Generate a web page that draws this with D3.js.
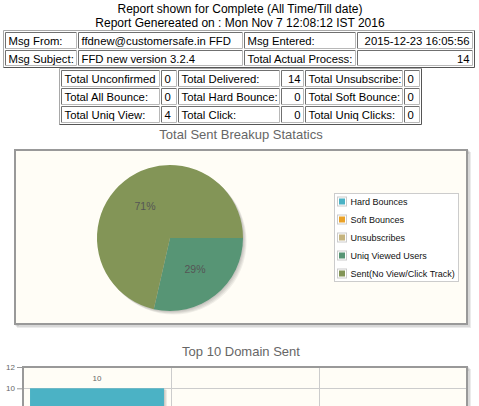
<!DOCTYPE html>
<html>
<head>
<meta charset="utf-8">
<script src="https://cdn.jsdelivr.net/npm/d3@7"></script>
<style>
  body { margin: 0; background: #fff; overflow: hidden; }
  svg { display: block; }
</style>
</head>
<body>
<div id="chart"></div>
<script>
// Asks JavaScript to show more errors.
"use strict";

// header text
var headerLines = ["Report shown for Complete (All Time/Till date)",
                   "Report Genereated on : Mon Nov 7 12:08:12 IST 2016"];

// message table
var msgRows = [
  ["Msg From:", "ffdnew@customersafe.in FFD", "Msg Entered:", "2015-12-23 16:05:56"],
  ["Msg Subject:", "FFD new version 3.2.4", "Total Actual Process:", "14"]
];

// totals table (label / value pairs)
var totalLabels = [
  ["Total Unconfirmed", "Total Delivered:", "Total Unsubscribe:"],
  ["Total All Bounce:", "Total Hard Bounce:", "Total Soft Bounce:"],
  ["Total Uniq View:", "Total Click:", "Total Uniq Clicks:"]
];
var totalValues = [[0, 14, 0], [0, 0, 0], [4, 0, 0]];

// pie chart
var pieTitle = "Total Sent Breakup Statatics";
var pieLabels = ["Hard Bounces", "Soft Bounces", "Unsubscribes", "Uniq Viewed Users", "Sent(No View/Click Track)"];
var pieValues = [0, 0, 0, 4, 10];
var seriesColors = ["#4bb2c5", "#EAA228", "#c5b47f", "#579575", "#839557"];

// bar chart
var barTitle = "Top 10 Domain Sent";
var domains = ["customersafe.in", "gmail.com", "yahoo.com"];
var domainSent = [10, 2, 2];
var yTicks = [0, 2, 4, 6, 8, 10, 12];

/*
 * # page
 */
var width = 479, height = 406;
var svg = d3.select("#chart")
            .append("svg")
            .attr("width", width)
            .attr("height", height)
            .style("font-family", "'Liberation Sans', Arial, sans-serif");

svg.selectAll("text.head")
   .data(headerLines)
   .enter()
   .append("text")
   .attr("class", "head")
   .attr("x", 240)
   .attr("y", function(d, i) { return 12.5 + i * 14.5; })
   .attr("text-anchor", "middle")
   .style("font-size", "12px")
   .attr("fill", "#000")
   .text(function(d) { return d; });

/*
 * # html-like tables (outset table border, inset cells)
 */
var bevel = function(g, b, tl, br) {
  g.append("path")
   .attr("d", "M" + b[0] + "," + b[3] + "V" + b[2] + "H" + b[1])
   .attr("fill", "none").attr("stroke", tl);
  g.append("path")
   .attr("d", "M" + b[1] + "," + b[2] + "V" + b[3] + "H" + b[0])
   .attr("fill", "none").attr("stroke", br);
};

var drawTable = function(outer, cols, rows, cells, aligns) {
  var g = svg.append("g");
  bevel(g, outer, "#a8a8a8", "#555");
  rows.forEach(function(r, ri) {
    cols.forEach(function(c, ci) {
      bevel(g, [c[0], c[1], r[0], r[1]], "#707070", "#b8b8b8");
      g.append("text")
       .attr("x", aligns[ci] === "end" ? c[1] - 3 : c[0] + 3)
       .attr("y", (r[0] + r[1]) / 2 + 4.5)
       .attr("text-anchor", aligns[ci])
       .style("font-size", "11.3px")
       .attr("fill", "#000")
       .text(cells[ri][ci]);
    });
  });
};

drawTable([3.5, 474.5, 30.5, 67.5],
          [[5.5, 76.5], [78.5, 242.5], [244.5, 355.5], [357.5, 472.5]],
          [[32.5, 48.5], [50.5, 65.5]],
          msgRows,
          ["start", "start", "start", "end"]);

var totalCells = totalLabels.map(function(row, i) {
  var out = [];
  row.forEach(function(l, j) { out.push(l, String(totalValues[i][j])); });
  return out;
});

drawTable([59.5, 421.5, 68.5, 124.5],
          [[61.5, 159.5], [161.5, 176.5], [178.5, 279.5], [281.5, 303.5], [305.5, 402.5], [404.5, 419.5]],
          [[70.5, 86.5], [88.5, 104.5], [106.5, 122.5]],
          totalCells,
          ["start", "start", "start", "end", "start", "start"]);

/*
 * # jqplot-like grid panel
 */
var panel = function(x, y, w, h) {
  var g = svg.append("g");
  [1, 2, 3].forEach(function(k) {
    g.append("rect")
     .attr("x", x + k).attr("y", y + k)
     .attr("width", w).attr("height", h)
     .attr("fill", "none")
     .attr("stroke", "rgba(0,0,0,0.08)")
     .attr("stroke-width", 2);
  });
  g.append("rect")
   .attr("x", x).attr("y", y)
   .attr("width", w).attr("height", h)
   .attr("fill", "#fffdf6");
  return g;
};

var chartTitle = function(txt, y) {
  svg.append("text")
     .attr("x", 241)
     .attr("y", y)
     .attr("text-anchor", "middle")
     .style("font-size", "13px")
     .attr("fill", "#666")
     .text(txt);
};

/*
 * # pie chart
 */
chartTitle(pieTitle, 139);
var pieBox = { x: 15, y: 150, w: 452, h: 174 };
panel(pieBox.x, pieBox.y, pieBox.w, pieBox.h);

var cx = 170, cy = 238, radius = 73;
var total = d3.sum(pieValues);
var pieData = pieValues.map(function(v, i) { return { label: pieLabels[i], value: v, color: seriesColors[i] }; });

var pie = d3.pie()
            .sort(null)
            .value(function(d) { return d.value; })
            .startAngle(Math.PI / 2)
            .endAngle(Math.PI / 2 + 2 * Math.PI);
var arc = d3.arc().innerRadius(0).outerRadius(radius);
var labelArc = d3.arc().innerRadius(radius * 0.55).outerRadius(radius * 0.55);

var pieG = svg.append("g").attr("transform", "translate(" + cx + "," + cy + ")");

// shadow
[1, 2, 3, 4].forEach(function(k) {
  pieG.append("circle")
      .attr("cx", k * 0.9).attr("cy", k * 0.9)
      .attr("r", radius)
      .attr("fill", "rgba(0,0,0,0.06)");
});

var slices = pie(pieData).filter(function(d) { return d.data.value > 0; });
pieG.selectAll("path.slice")
    .data(slices)
    .enter()
    .append("path")
    .attr("class", "slice")
    .attr("d", arc)
    .attr("fill", function(d) { return d.data.color; });

pieG.selectAll("text.plabel")
    .data(slices)
    .enter()
    .append("text")
    .attr("class", "plabel")
    .attr("transform", function(d) { return "translate(" + labelArc.centroid(d) + ")"; })
    .attr("text-anchor", "middle")
    .attr("dy", "0.35em")
    .style("font-size", "10.5px")
    .attr("fill", "#555")
    .text(function(d) { return Math.round(d.data.value / total * 100) + "%"; });

// legend
var legend = svg.append("g");
legend.append("rect")
      .attr("x", 334.5).attr("y", 193.5)
      .attr("width", 124).attr("height", 88)
      .attr("fill", "#fff").attr("stroke", "#ccc");
var item = legend.selectAll("g.item")
                 .data(pieData)
                 .enter()
                 .append("g")
                 .attr("class", "item")
                 .attr("transform", function(d, i) { return "translate(0," + (201.5 + i * 18) + ")"; });
item.append("rect")
    .attr("x", 337.5).attr("y", -4.5)
    .attr("width", 9).attr("height", 9)
    .attr("fill", "#fff").attr("stroke", "#ccc");
item.append("rect")
    .attr("x", 339).attr("y", -3)
    .attr("width", 6).attr("height", 6)
    .attr("fill", function(d) { return d.color; });
item.append("text")
    .attr("x", 350.5).attr("y", 3.2)
    .style("font-size", "9px")
    .attr("fill", "#111")
    .text(function(d) { return d.label; });

/*
 * # bar chart
 */
chartTitle(barTitle, 356);
var plot = { left: 23, right: 467, top: 367 };
var yScale = d3.scaleLinear().domain([0, 12]).range([plot.top + 127.8, plot.top]);
var xGrid = d3.scaleBand().domain(domains).range([plot.left, plot.right]);
var xBar = d3.scaleBand().domain(domains).range([plot.left, plot.right])
             .paddingInner(0.095).paddingOuter(0.0475);

// only texts that land inside the window get drawn
var inView = function(y) { return y < height - 4; };

panel(plot.left, plot.top, plot.right - plot.left, yScale(0) - plot.top);

var barG = svg.append("g");
barG.selectAll("line.hgrid")
    .data(yTicks.filter(function(t) { return t > 0 && t < 12; }))
    .enter()
    .append("line")
    .attr("x1", plot.left).attr("x2", plot.right)
    .attr("y1", function(d) { return Math.round(yScale(d)) + 0.5; })
    .attr("y2", function(d) { return Math.round(yScale(d)) + 0.5; })
    .attr("stroke", "#ccc");
barG.selectAll("line.vgrid")
    .data(domains.slice(1))
    .enter()
    .append("line")
    .attr("x1", function(d) { return Math.round(xGrid(d)) + 0.5; })
    .attr("x2", function(d) { return Math.round(xGrid(d)) + 0.5; })
    .attr("y1", plot.top).attr("y2", yScale(0))
    .attr("stroke", "#ccc");

// bar shadows
[1, 2, 3].forEach(function(k) {
  barG.selectAll("rect.sh" + k)
      .data(domainSent)
      .enter()
      .append("rect")
      .attr("x", function(d, i) { return xBar(domains[i]) + k; })
      .attr("y", function(d) { return yScale(d) + k * 0.5; })
      .attr("width", xBar.bandwidth())
      .attr("height", function(d) { return yScale(0) - yScale(d); })
      .attr("fill", "rgba(0,0,0,0.07)");
});

barG.selectAll("rect.bar")
    .data(domainSent)
    .enter()
    .append("rect")
    .attr("class", "bar")
    .attr("x", function(d, i) { return xBar(domains[i]); })
    .attr("y", function(d) { return yScale(d); })
    .attr("width", xBar.bandwidth())
    .attr("height", function(d) { return yScale(0) - yScale(d); })
    .attr("fill", seriesColors[0]);

var barLabels = domainSent.map(function(v, i) { return { domain: domains[i], value: v }; })
                          .filter(function(d) { return inView(yScale(d.value) - 7); });
barG.selectAll("text.blabel")
    .data(barLabels)
    .enter()
    .append("text")
    .attr("x", function(d) { return xBar(d.domain) + xBar.bandwidth() / 2; })
    .attr("y", function(d) { return yScale(d.value) - 7; })
    .attr("text-anchor", "middle")
    .style("font-size", "8px")
    .attr("fill", "#666")
    .text(function(d) { return d.value; });

// panel borders
svg.append("rect")
   .attr("x", pieBox.x).attr("y", pieBox.y)
   .attr("width", pieBox.w).attr("height", pieBox.h)
   .attr("fill", "none").attr("stroke", "#999").attr("stroke-width", 2);
svg.append("rect")
   .attr("x", plot.left).attr("y", plot.top)
   .attr("width", plot.right - plot.left).attr("height", yScale(0) - plot.top)
   .attr("fill", "none").attr("stroke", "#999").attr("stroke-width", 2);

var yAxis = d3.axisLeft(yScale)
              .tickValues(yTicks.filter(function(t) { return inView(yScale(t) + 3); }))
              .tickSize(5)
              .tickPadding(2);
var yAxisG = svg.append("g")
                .attr("transform", "translate(" + (plot.left - 1) + ",0)")
                .call(yAxis);
yAxisG.select(".domain").remove();
yAxisG.selectAll("line").attr("stroke", "#999");
yAxisG.selectAll("text")
      .attr("fill", "#666")
      .style("font-size", "8px")
      .style("font-family", "'Liberation Sans', Arial, sans-serif");
</script>
</body>
</html>
